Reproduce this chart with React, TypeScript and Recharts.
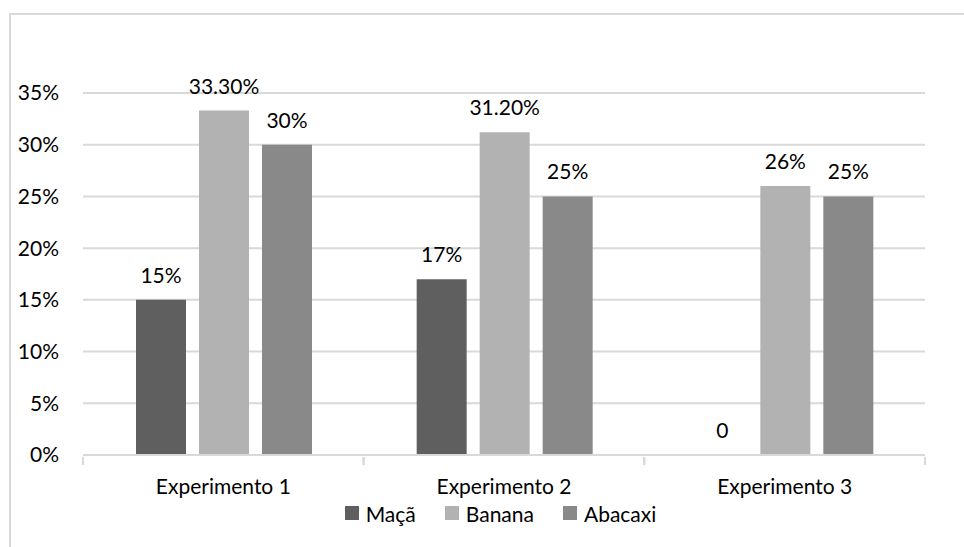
import React from 'react';
import {
  BarChart,
  Bar,
  XAxis,
  YAxis,
  CartesianGrid,
  Legend,
  LabelList,
} from 'recharts';

const experiments = ['Experimento 1', 'Experimento 2', 'Experimento 3'];
const maca = [0.15, 0.17, 0];
const banana = [0.333, 0.312, 0.26];
const abacaxi = [0.3, 0.25, 0.25];
const yTicks = [0, 0.05, 0.1, 0.15, 0.2, 0.25, 0.3, 0.35];

const SERIES = [
  { key: 'maca', name: 'Maçã', color: '#5f5f5f' },
  { key: 'banana', name: 'Banana', color: '#b2b2b2' },
  { key: 'abacaxi', name: 'Abacaxi', color: '#898989' },
];

const data = experiments.map((name, i) => ({
  name,
  maca: maca[i],
  banana: banana[i],
  abacaxi: abacaxi[i],
}));

const FONT = 'Lato, "Open Sans", sans-serif';
const FS = 21;
const GRID = '#d9d9d9';

const pct = (v: number) => `${Math.round(v * 100)}%`;

// data labels: whole numbers plain, fractions with two decimals, zero without the sign
const labelText = (v: any) => {
  const n = Number(v);
  if (n === 0) return '0';
  const p = n * 100;
  if (Math.abs(p - Math.round(p)) < 1e-9) return `${Math.round(p)}%`;
  return `${p.toFixed(2)}%`;
};

const renderValue = (props: any) => {
  const { x, y, width, value } = props;
  return (
    <text
      x={Number(x) + Number(width) / 2}
      y={Number(y) - 17}
      textAnchor="middle"
      fill="#000"
      fontSize={FS}
      fontFamily={FONT}
    >
      {labelText(value)}
    </text>
  );
};

// category label plus the small separator marks at both band edges
const CategoryTick = (props: any) => {
  const { x, y, payload } = props;
  const half = Number(payload?.offset ?? 0);
  return (
    <g>
      <line x1={x - half} x2={x - half} y1={y} y2={y + 8} stroke={GRID} strokeWidth={2} />
      <line x1={x + half} x2={x + half} y1={y} y2={y + 8} stroke={GRID} strokeWidth={2} />
      <text x={x} y={y + 37} textAnchor="middle" fill="#000" fontSize={FS} fontFamily={FONT}>
        {payload.value}
      </text>
    </g>
  );
};

const renderLegend = () => (
  <div
    style={{
      display: 'flex',
      justifyContent: 'center',
      alignItems: 'center',
      fontFamily: FONT,
      fontSize: FS,
      color: '#000',
      height: 24,
      paddingLeft: 76,
    }}
  >
    {SERIES.map((s, i) => (
      <div
        key={s.key}
        style={{ display: 'flex', alignItems: 'center', marginLeft: i === 0 ? 0 : 29 }}
      >
        <span style={{ width: 14, height: 14, background: s.color, marginRight: 7 }} />
        <span>{s.name}</span>
      </div>
    ))}
  </div>
);

const App: React.FC = () => {
  return (
    <div
      style={{
        position: 'absolute',
        left: 0,
        top: 0,
        width: 964,
        height: 547,
        overflow: 'hidden',
        background: '#fff',
        fontFamily: FONT,
      }}
    >
      <div
        style={{
          position: 'absolute',
          left: 9,
          top: 13,
          width: 1000,
          height: 600,
          border: `2px solid ${GRID}`,
        }}
      />
      <div style={{ position: 'absolute', left: 0, top: 0 }}>
        <BarChart
          width={964}
          height={547}
          data={data}
          margin={{ top: 93, right: 39, left: 0, bottom: 22 }}
          barCategoryGap={53}
          barGap={13}
        >
          <CartesianGrid vertical={false} stroke={GRID} strokeWidth={2} />
          <XAxis
            dataKey="name"
            height={46}
            axisLine={{ stroke: GRID, strokeWidth: 2 }}
            tickLine={false}
            tickSize={0}
            tick={<CategoryTick />}
          />
          <YAxis
            width={83}
            domain={[0, 0.35]}
            ticks={yTicks}
            tickFormatter={pct}
            axisLine={false}
            tickLine={false}
            tickSize={0}
            tickMargin={24}
            tick={{ fill: '#000', fontSize: FS, fontFamily: FONT }}
          />
          <Legend verticalAlign="bottom" content={renderLegend} />
          {SERIES.map((s) => (
            <Bar
              key={s.key}
              dataKey={s.key}
              name={s.name}
              fill={s.color}
              minPointSize={(v: any) => (v === 0 ? 0.01 : 0)}
              isAnimationActive={false}
            >
              <LabelList dataKey={s.key} content={renderValue} />
            </Bar>
          ))}
        </BarChart>
      </div>
    </div>
  );
};

export default App;
